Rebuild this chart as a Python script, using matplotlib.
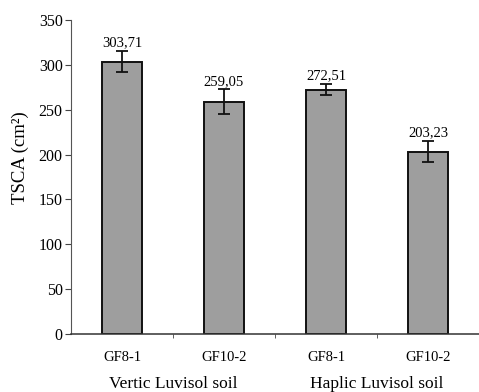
import matplotlib
matplotlib.use("Agg")
import matplotlib.pyplot as plt
import numpy as np

cultivars = ["GF8-1", "GF10-2", "GF8-1", "GF10-2"]
soils = ["Vertic Luvisol soil", "Haplic Luvisol soil"]
tsca = [303.71, 259.05, 272.51, 203.23]
tsca_err = [12.0, 13.5, 6.0, 12.0]
value_labels = ["303,71", "259,05", "272,51", "203,23"]

plt.rcParams["font.family"] = ["Liberation Serif", "DejaVu Serif"]

fig = plt.figure(figsize=(4.79, 3.92), dpi=100)
ax = fig.add_axes([71 / 479, 1 - 334 / 392, 408 / 479, 314 / 392])

x = np.arange(len(tsca))
ax.bar(x, tsca, width=0.4, color="#9e9e9e", edgecolor="#111111", linewidth=1.4,
       yerr=tsca_err, capsize=4, error_kw=dict(ecolor="#111111", elinewidth=1.3, capthick=1.3),
       zorder=2)

for xi, v, e, lab in zip(x, tsca, tsca_err, value_labels):
    ax.text(xi, v + e + 2, lab, ha="center", va="bottom", fontsize=10.5)

ax.set_xlim(-0.5, 3.5)
ax.set_ylim(0, 350)
ax.set_yticks(np.arange(0, 351, 50))
ax.set_xticks(x)
ax.set_xticklabels(cultivars, fontsize=10.5)
ax.set_xticks([0.5, 1.5, 2.5], minor=True)
ax.tick_params(axis="x", which="major", length=0, pad=12)
ax.tick_params(axis="x", which="minor", length=3, direction="out", color="#444444")
ax.tick_params(axis="y", length=4, direction="out", labelsize=11.5, pad=2, color="#444444")

for side in ("top", "right"):
    ax.spines[side].set_visible(False)
ax.spines["left"].set_color("#555555")
ax.spines["bottom"].set_color("#333333")
ax.spines["bottom"].set_linewidth(1.1)

# soil type group labels under the cultivar names
for pos, name in zip([0.5, 2.5], soils):
    ax.text(pos, -0.135, name, transform=ax.get_xaxis_transform(),
            ha="center", va="top", fontsize=12.5)

fig.text(20 / 479, 1 - 158 / 392, "TSCA (cm²)", rotation=90,
         ha="center", va="center", fontsize=13.5)

fig.savefig("out.png", dpi=100)
